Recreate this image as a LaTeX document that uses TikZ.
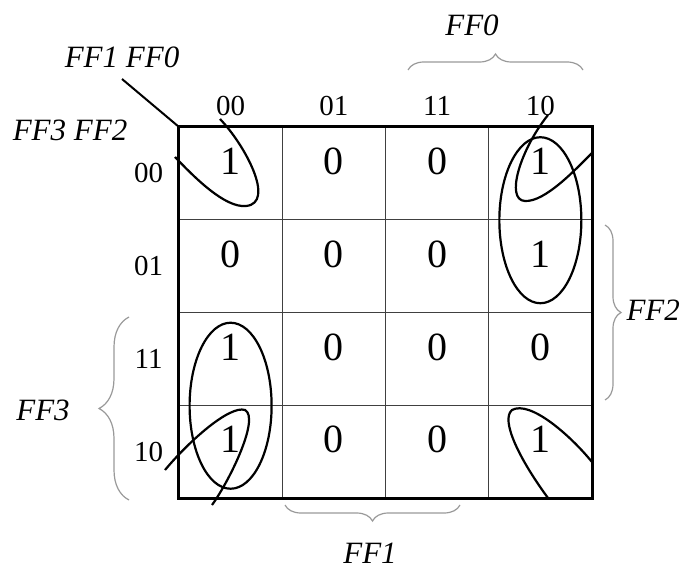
\documentclass[tikz,border=0pt]{standalone}
\usepackage{fontspec}
\setmainfont{Liberation Serif}
\usepackage{tikz}
\usetikzlibrary{positioning,decorations.pathreplacing}

\begin{document}
\begin{tikzpicture}[x=1pt, y=-1pt, node distance=92.75pt and 103.25pt, on grid,
    cell/.style={draw=gray!50!black, line width=0.9pt, minimum width=103.25pt, minimum height=92.75pt,
      inner sep=0pt, text depth=24pt, font=\fontsize{40}{40}\selectfont},
    head/.style={font=\fontsize{29}{29}\selectfont},
    var/.style={font=\fontsize{31}{31}\selectfont\itshape},
    loop/.style={line width=2.2pt},
    brc/.style={draw=gray!80, line width=1.2pt, decorate, decoration={brace, amplitude=#1}},
    brc/.default=16pt]
\useasboundingbox (0,0) rectangle (685,572);
\node[cell] (m0) at (230.6,173.4) {1};
\node[cell, right=of m0] (m1) {0};
\node[cell, right=of m1] (m3) {0};
\node[cell, right=of m3] (m2) {1};
\node[cell, below=of m0] (m4) {0};
\node[cell, right=of m4] (m5) {0};
\node[cell, right=of m5] (m7) {0};
\node[cell, right=of m7] (m6) {1};
\node[cell, below=of m4] (m12) {1};
\node[cell, right=of m12] (m13) {0};
\node[cell, right=of m13] (m15) {0};
\node[cell, right=of m15] (m14) {0};
\node[cell, below=of m12] (m8) {1};
\node[cell, right=of m8] (m9) {0};
\node[cell, right=of m9] (m11) {0};
\node[cell, right=of m11] (m10) {1};
\draw[line width=3pt] (m0.north west) rectangle (m10.south east);

\node[head, above=67pt of m0] (c00) {00};
\node[head, above=67pt of m1] (c01) {01};
\node[head, above=67pt of m3] (c11) {11};
\node[head, above=67pt of m2] (c10) {10};
\node[head, left=82pt of m0] (r00) {00};
\node[head, left=82pt of m4] (r01) {01};
\node[head, left=82pt of m12] (r11) {11};
\node[head, left=82pt of m8] (r10) {10};

\node[var] (ff10) at (122,57) {FF1 FF0};
\node[var] (ff32) at (70,130) {FF3 FF2};
\coordinate (tick) at (122,79);
\draw[line width=2pt] (tick) -- (m0.north west);

\coordinate (b0a) at (408,70);
\coordinate (b0b) at (583,70);
\coordinate (b2a) at (605,225);
\coordinate (b2b) at (605,400);
\coordinate (b3a) at (129,500);
\coordinate (b3b) at (129,317);
\coordinate (b1a) at (460,505);
\coordinate (b1b) at (285,505);
\draw[brc] (b0a) -- (b0b);
\draw[brc] (b2a) -- (b2b);
\draw[brc=30pt] (b3a) -- (b3b);
\draw[brc] (b1a) -- (b1b);
\node[var] (ff0) at (472,25) {FF0};
\node[var, anchor=west] (ff2) at (623,310) {FF2};
\node[var] (ff3) at (43,410) {FF3};
\node[var] (ff1) at (370,553) {FF1};

\draw[loop] (m2.south) ellipse (41 and 83);
\draw[loop] (m12.south) ellipse (41 and 83);
\draw[loop] (220,119) .. controls (245,145) and (276,203) .. (246,206)
  .. controls (225,208) and (195,178) .. (175,157);
\draw[loop] (548,115) .. controls (520,150) and (505,200) .. (525,201)
  .. controls (545,202) and (575,170) .. (593,152);
\draw[loop] (165,470) .. controls (190,440) and (230,405) .. (245,410)
  .. controls (260,418) and (230,480) .. (212,505);
\draw[loop] (592,462) .. controls (570,435) and (530,400) .. (512,410)
  .. controls (500,420) and (520,460) .. (548,498);
\end{tikzpicture}
\end{document}
